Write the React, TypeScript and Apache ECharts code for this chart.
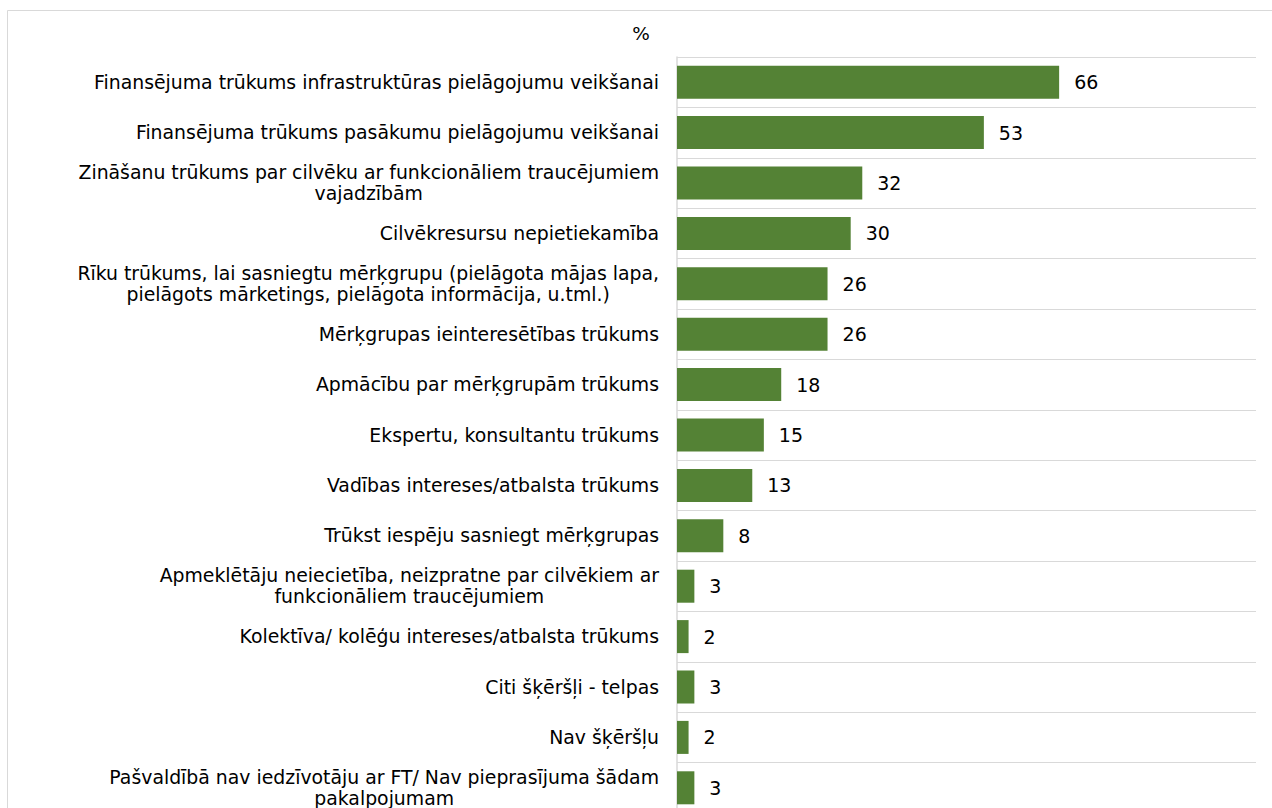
import React, { useEffect, useRef } from "react";
import * as echarts from "echarts";

const categories: string[] = [
  "Finansējuma trūkums infrastruktūras pielāgojumu veikšanai",
  "Finansējuma trūkums pasākumu pielāgojumu veikšanai",
  "Zināšanu trūkums par cilvēku ar funkcionāliem traucējumiem\nvajadzībām",
  "Cilvēkresursu nepietiekamība",
  "Rīku trūkums, lai sasniegtu mērķgrupu (pielāgota mājas lapa,\npielāgots mārketings, pielāgota informācija, u.tml.)",
  "Mērķgrupas ieinteresētības trūkums",
  "Apmācību par mērķgrupām trūkums",
  "Ekspertu, konsultantu trūkums",
  "Vadības intereses/atbalsta trūkums",
  "Trūkst iespēju sasniegt mērķgrupas",
  "Apmeklētāju neiecietība, neizpratne par cilvēkiem ar\nfunkcionāliem traucējumiem",
  "Kolektīva/ kolēģu intereses/atbalsta trūkums",
  "Citi šķēršļi - telpas",
  "Nav šķēršļu",
  "Pašvaldībā nav iedzīvotāju ar FT/ Nav pieprasījuma šādam\npakalpojumam",
];

const values: number[] = [66, 53, 32, 30, 26, 26, 18, 15, 13, 8, 3, 2, 3, 2, 3];

const unitLabel = "%";

const FONT = "DejaVu Sans";

export default function App() {
  const ref = useRef<HTMLDivElement>(null);

  useEffect(() => {
    if (!ref.current) return;
    const chart = echarts.init(ref.current, null, { renderer: "svg" });
    chart.setOption({
      animation: false,
      backgroundColor: "#ffffff",
      graphic: [
        {
          type: "rect",
          shape: { x: 7.5, y: 10.5, width: 1400, height: 1000 },
          style: { fill: "none", stroke: "#d9d9d9", lineWidth: 1 },
          silent: true,
        },
        {
          type: "text",
          x: 641,
          y: 33,
          style: {
            text: unitLabel,
            fontFamily: FONT,
            fontSize: 18.5,
            fill: "#000",
            align: "center",
            verticalAlign: "middle",
          },
        },
      ],
      grid: {
        left: 677,
        top: 57,
        width: 579,
        height: 756,
        containLabel: false,
        outerBoundsMode: "none",
      },
      xAxis: {
        type: "value",
        min: 0,
        max: 100,
        show: false,
        splitLine: { show: false },
      },
      yAxis: {
        type: "category",
        data: categories,
        inverse: true,
        axisLine: { show: true, lineStyle: { color: "#d9d9d9", width: 1.5 } },
        axisTick: { show: false },
        splitLine: { show: true, lineStyle: { color: "#d9d9d9", width: 1 } },
        axisLabel: {
          margin: 18,
          align: "right",
          interval: 0,
          formatter: (v: string) =>
            v
              .split("\n")
              .map((l) => `{c|${l}}`)
              .join("\n"),
          rich: {
            c: {
              align: "center",
              fontFamily: FONT,
              fontSize: 18.85,
              color: "#000",
              lineHeight: 21,
            },
          },
        },
      },
      series: [
        {
          type: "bar",
          data: values,
          barCategoryGap: "34.5%",
          itemStyle: { color: "#548235" },
          label: {
            show: true,
            position: "right",
            distance: 15,
            fontFamily: FONT,
            fontSize: 19,
            color: "#000",
          },
        },
      ],
    });
    return () => chart.dispose();
  }, []);

  return (
    <div
      ref={ref}
      style={{ position: "absolute", left: 0, top: 0, width: 1272, height: 808 }}
    />
  );
}
